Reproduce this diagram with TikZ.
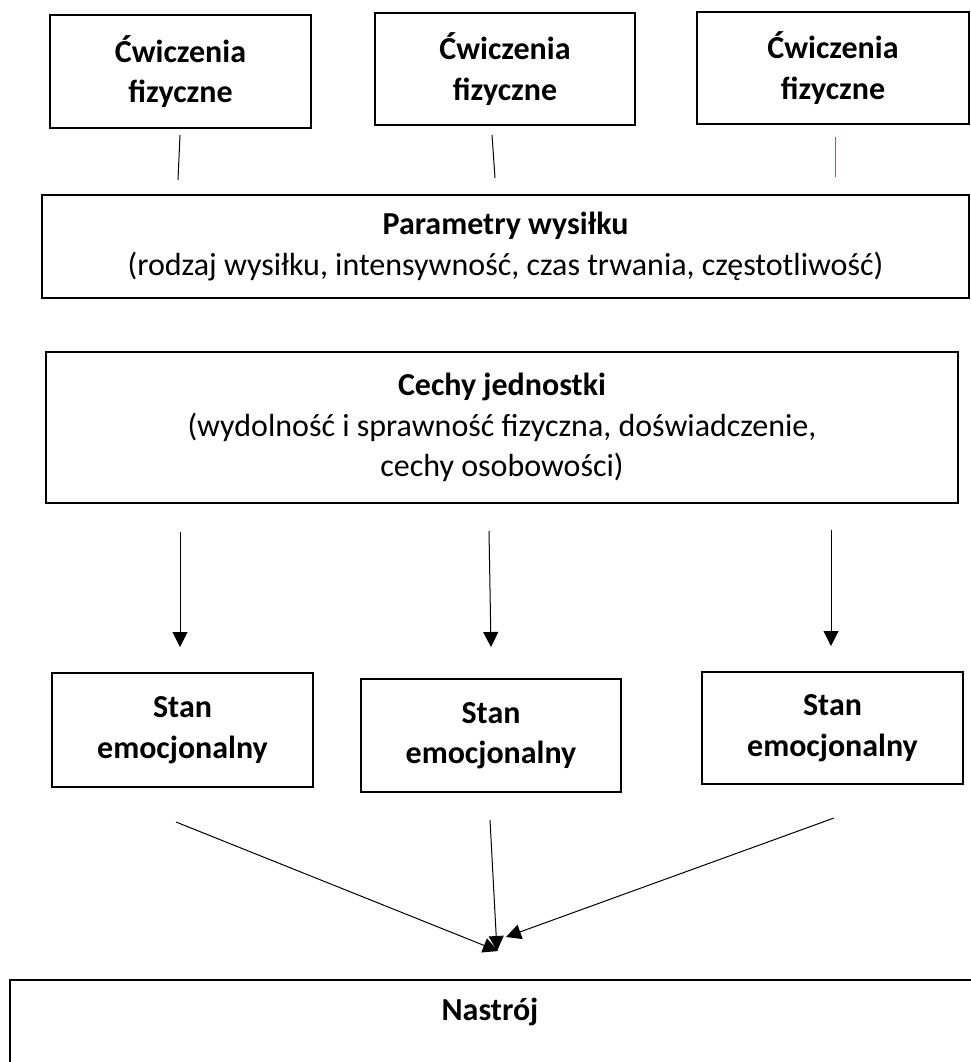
\documentclass[tikz,border=0pt]{standalone}
\usepackage{fontspec}
\setmainfont{Carlito}
\usetikzlibrary{arrows.meta}
\definecolor{lineblue}{RGB}{68,114,196}
\begin{document}
\begin{tikzpicture}[x=1pt,y=-1pt,
  box/.style={draw=black,line width=2pt,rectangle,inner sep=0pt,align=center,
    font=\fontsize{32}{40.5}\selectfont},
  conn/.style={line width=1pt,draw=black},
  arr/.style={line width=1pt,draw=black,-{Triangle[length=15pt,width=15pt]}}]
\useasboundingbox (0,0) rectangle (971,1062);
% top boxes
\node[box,minimum width=261pt,minimum height=113pt] (e1) at (180.5,71.5) {\textbf{Ćwiczenia}\\\textbf{fizyczne}};
\node[box,minimum width=260pt,minimum height=112pt] (e2) at (505,69) {\textbf{Ćwiczenia}\\\textbf{fizyczne}};
\node[box,minimum width=272pt,minimum height=112pt] (e3) at (833,68) {\textbf{Ćwiczenia}\\\textbf{fizyczne}};
% parameters
\node[box,minimum width=927pt,minimum height=103pt] (par) at (505.5,246.5) {\textbf{Parametry wysiłku}\\(rodzaj wysiłku, intensywność, czas trwania, częstotliwość)};
% cechy
\node[box,minimum width=912pt,minimum height=151pt] (cech) at (502,427.5) {\textbf{Cechy jednostki}\\(wydolność i sprawność fizyczna, doświadczenie,\\cechy osobowości)};
% stan boxes
\node[box,minimum width=261pt,minimum height=114pt] (s1) at (182.5,730) {\textbf{Stan}\\\textbf{emocjonalny}};
\node[box,minimum width=260pt,minimum height=113pt] (s2) at (491,735.5) {\textbf{Stan}\\\textbf{emocjonalny}};
\node[box,minimum width=261pt,minimum height=112pt] (s3) at (832.5,728) {\textbf{Stan}\\\textbf{emocjonalny}};
% nastroj
\node[box,minimum width=975pt,minimum height=100pt,anchor=north west] (nas) at (9,979) {};
\node[font=\fontsize{32}{40.5}\selectfont\bfseries,anchor=center] (nast) at (490,1012) {Nastrój};
% connector end points
\coordinate (a1) at (180,135); \coordinate (b1) at (178,180);
\coordinate (a2) at (492,135); \coordinate (b2) at (495,178);
\coordinate (a3) at (835,137); \coordinate (b3) at (835,177);
\draw[conn] (a1) -- (b1);
\draw[conn] (a2) -- (b2);
\draw[line width=1pt,draw=lineblue] (a3) -- (b3);
% arrows down
\coordinate (c1) at (180,532); \coordinate (d1) at (180,647);
\coordinate (c2) at (489,531); \coordinate (d2) at (491,647);
\coordinate (c3) at (831,530); \coordinate (d3) at (831,646);
\draw[arr] (c1) -- (d1);
\draw[arr] (c2) -- (d2);
\draw[arr] (c3) -- (d3);
% converging arrows
\coordinate (f1) at (176,822); \coordinate (g1) at (498,951);
\coordinate (f2) at (490,820); \coordinate (g2) at (497,951);
\coordinate (f3) at (834,818); \coordinate (g3) at (506,937);
\draw[arr] (f1) -- (g1);
\draw[arr] (f2) -- (g2);
\draw[arr] (f3) -- (g3);
\end{tikzpicture}
\end{document}
